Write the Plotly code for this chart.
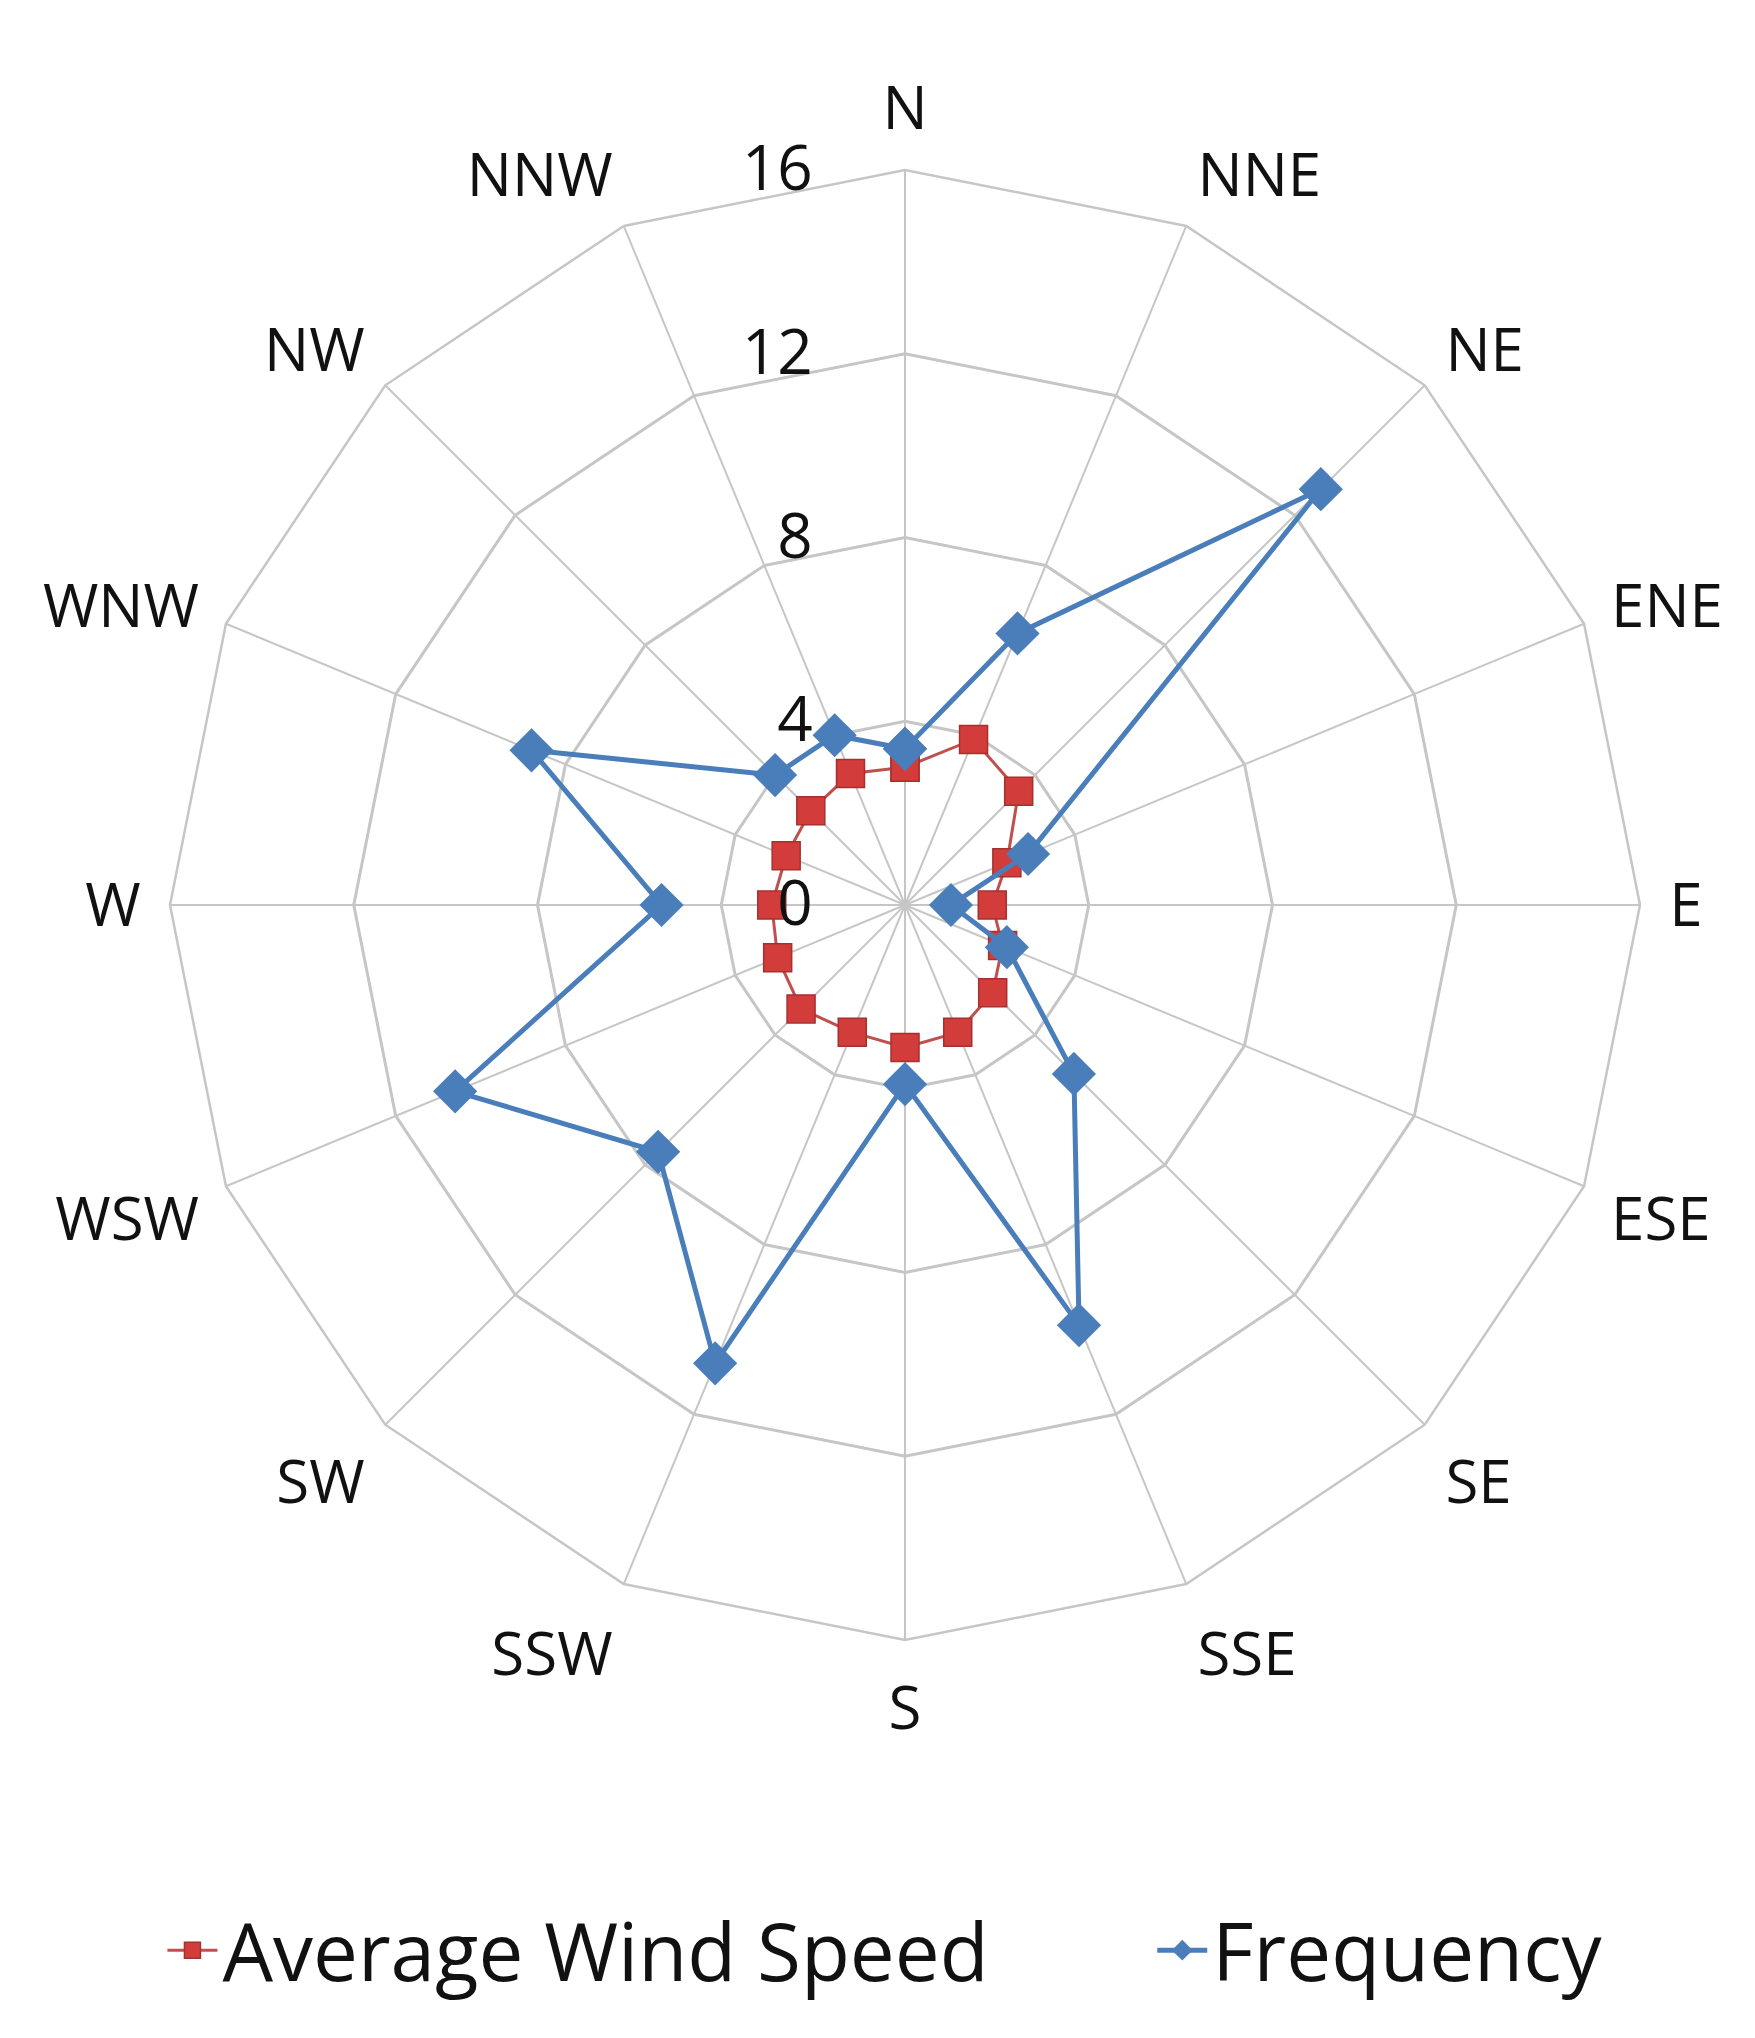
import plotly.graph_objects as go

# wind directions, clockwise from north
directions = ["N", "NNE", "NE", "ENE", "E", "ESE", "SE", "SSE",
              "S", "SSW", "SW", "WSW", "W", "WNW", "NW", "NNW"]
avg_wind_speed = [3.0, 3.9, 3.5, 2.4, 1.9, 2.3, 2.7, 3.0,
                  3.1, 3.0, 3.2, 3.0, 2.9, 2.8, 2.9, 3.1]
frequency = [3.4, 6.4, 12.8, 2.9, 1.0, 2.4, 5.2, 9.9,
             3.9, 10.8, 7.6, 10.6, 5.3, 8.8, 4.0, 4.0]
radial_ticks = [0, 4, 8, 12, 16]


def closed(vals):
    # repeat first point so the polygon closes
    return list(vals) + [vals[0]]


fig = go.Figure()
fig.add_trace(go.Scatterpolar(
    r=closed(avg_wind_speed), theta=closed(directions),
    name="Average Wind Speed", mode="lines+markers",
    line=dict(color="#c0504d", width=3),
    marker=dict(symbol="square", size=28, color="#d23c3a",
                line=dict(color="#a5312f", width=1.5)),
    legend="legend", showlegend=True,
))
fig.add_trace(go.Scatterpolar(
    r=closed(frequency), theta=closed(directions),
    name="Frequency", mode="lines+markers",
    line=dict(color="#4a7ebb", width=5),
    marker=dict(symbol="diamond", size=34, color="#4a7ebb"),
    legend="legend2", showlegend=True,
))

legend_style = dict(orientation="h", y=0.047, yanchor="middle",
                    xanchor="left", font=dict(size=80), itemwidth=50)

fig.update_layout(
    width=1755, height=2038,
    margin=dict(t=0, b=0, l=0, r=0),
    paper_bgcolor="white",
    showlegend=True,
    font=dict(family="Open Sans", color="#111111"),
    polar=dict(
        domain=dict(x=[(897 - 735) / 1755, (897 + 735) / 1755],
                    y=[1 - (897 + 735) / 2038, 1 - (897 - 735) / 2038]),
        gridshape="linear",
        bgcolor="white",
        angularaxis=dict(
            rotation=90, direction="clockwise",
            categoryarray=directions, type="category",
            showline=True, linecolor="#c6c6c6", linewidth=2.5,
            gridcolor="#c6c6c6", gridwidth=1.5,
            ticks="outside", ticklen=16, tickcolor="rgba(0,0,0,0)",
            tickfont=dict(size=60),
        ),
        radialaxis=dict(
            range=[0, 16], tickvals=radial_ticks, angle=90,
            side="counterclockwise", tickangle=90,
            showline=False,
            ticks="outside", ticklen=70, tickcolor="rgba(0,0,0,0)",
            gridcolor="#c6c6c6", gridwidth=2.5,
            tickfont=dict(size=62),
        ),
    ),
    legend=dict(x=0.088, **legend_style),
    legend2=dict(x=0.652, **legend_style),
)

fig.write_html("out.html")
